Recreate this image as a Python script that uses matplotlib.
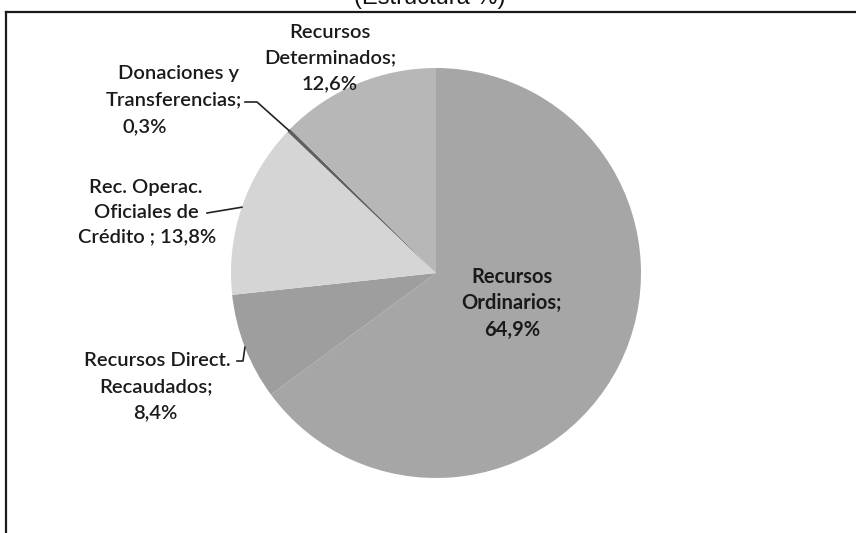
import numpy as np
import matplotlib.pyplot as plt
from matplotlib.lines import Line2D

# figure size in pixels (dpi 100)
W, H = 856, 533

# data
categorias = ['Recursos Ordinarios', 'Recursos Direct. Recaudados',
              'Rec. Operac. Oficiales de Crédito', 'Donaciones y Transferencias',
              'Recursos Determinados']
porcentajes = [64.9, 8.4, 13.8, 0.3, 12.6]
etiquetas = [
    ['Recursos', 'Ordinarios;', '{p}'],
    ['Recursos Direct.', 'Recaudados;', '{p}'],
    ['Rec. Operac.', 'Oficiales de', 'Crédito ; {p}'],
    ['Donaciones y', 'Transferencias;', '{p}'],
    ['Recursos', 'Determinados;', '{p}'],
]
titulo = '(Estructura %)'

colores = ['#a6a6a6', '#9e9e9e', '#d5d5d5', '#5e5e5e', '#b7b7b7']

# label line positions, in pixels from top-left
pos_etiquetas = [
    [(512, 277), (512, 303), (512, 330)],
    [(157, 360), (156, 387), (155, 413)],
    [(146, 188), (146, 212), (147, 237)],
    [(179, 73), (174, 100), (145, 127)],
    [(330, 32), (330, 58), (330, 84)],
]
# start of each leader line (pixels), it ends on the wedge edge
leader_inicio = {1: [(237, 361), (243, 361)],
                 2: [(207, 213)],
                 3: [(245, 102), (257, 102)]}

centro = (436, 273)
radio = 205

fig = plt.figure(figsize=(W / 100, H / 100), dpi=100)
ax = fig.add_axes([0, 0, 1, 1])

wedges, _ = ax.pie(porcentajes, colors=colores, startangle=90, counterclock=False,
                   center=(centro[0], H - centro[1]), radius=radio,
                   wedgeprops=dict(linewidth=0))
# pie() resets the limits, so set them afterwards
ax.set_xlim(0, W)
ax.set_ylim(0, H)
ax.set_aspect('equal')
ax.axis('off')

fuente = ['Lato', 'DejaVu Sans']
for i, (lineas, posiciones) in enumerate(zip(etiquetas, pos_etiquetas)):
    pct = f'{porcentajes[i]:.1f}'.replace('.', ',') + '%'
    peso = 'bold' if i == 0 else 'semibold'
    for texto, (x, y) in zip(lineas, posiciones):
        ax.text(x, H - y, texto.format(p=pct), ha='center', va='center',
                fontsize=14.5, fontweight=peso, family=fuente, color='#1a1a1a')

# leader lines to the edge of each wedge at its middle angle
for i, puntos in leader_inicio.items():
    w = wedges[i]
    ang = np.deg2rad((w.theta1 + w.theta2) / 2)
    ex = w.center[0] + w.r * np.cos(ang)
    ey = w.center[1] + w.r * np.sin(ang)
    xs = [p[0] for p in puntos] + [ex]
    ys = [H - p[1] for p in puntos] + [ey]
    ax.plot(xs, ys, color='#222222', linewidth=1.2)

# title, cut off at the top of the page
fig.text(430 / W, 1 - 4 / H, titulo, ha='center', va='baseline',
         fontsize=17, family=['Liberation Sans', 'DejaVu Sans'], color='#111111')

# frame: only top and left edges visible
fig.add_artist(Line2D([6 / W, 6 / W], [0, 1 - 12 / H], color='#1a1a1a', linewidth=1.6))
fig.add_artist(Line2D([6 / W, 1], [1 - 12 / H, 1 - 12 / H], color='#1a1a1a', linewidth=1.6))

fig.savefig('out.png', dpi=100)
